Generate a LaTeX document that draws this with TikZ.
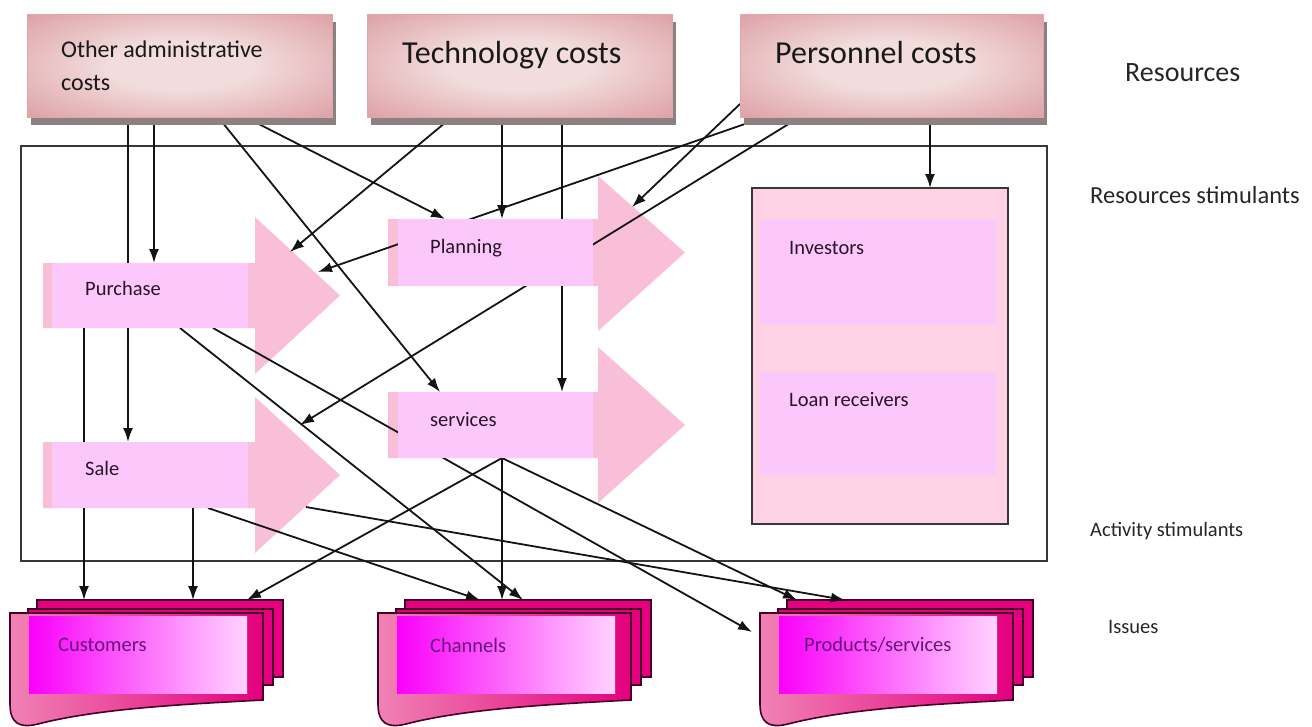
\documentclass[tikz,border=0pt]{standalone}
\usepackage{fontspec}
\setmainfont{Carlito}
\usetikzlibrary{arrows.meta}

\pgfdeclarelayer{back}
\pgfdeclarelayer{wires}
\pgfsetlayers{back,wires,main}

% palette
\definecolor{roseDark}{RGB}{212,134,140}
\definecolor{roseLight}{RGB}{242,220,220}
\definecolor{roseEdge}{RGB}{222,168,170}
\definecolor{shadowGray}{RGB}{140,128,128}
\definecolor{headPink}{RGB}{249,190,216}
\definecolor{lilac}{RGB}{252,200,252}
\definecolor{paleRose}{RGB}{253,210,228}
\definecolor{docDeep}{RGB}{228,0,126}
\definecolor{docEdge}{RGB}{70,0,40}
\definecolor{docSide}{RGB}{240,130,180}
\definecolor{docMid}{RGB}{255,238,248}
\definecolor{docInnerA}{RGB}{250,0,250}
\definecolor{docInnerB}{RGB}{255,212,255}
\definecolor{docText}{RGB}{105,20,125}
\definecolor{boxText}{RGB}{40,20,40}
\definecolor{frameGray}{RGB}{55,55,55}

\pgfdeclareradialshading{costshade}{\pgfpoint{0bp}{0bp}}{%
  color(0bp)=(roseLight); color(12bp)=(roseLight);
  color(46bp)=(roseDark); color(75bp)=(roseDark)}

\tikzset{
  costbox/.style={shade, shading=costshade, draw=roseEdge, line width=0.8pt,
    inner sep=0pt, outer sep=0pt, anchor=north west, minimum height=103},
  stimbox/.style={fill=lilac, inner sep=0pt, outer sep=0pt, anchor=north west},
  wire/.style={line width=1.8pt, draw=black!92, -{Latex[length=14pt,width=10pt]}},
  lbl/.style={font=\fontsize{20.5}{24}\selectfont, text=boxText, inner sep=0pt, anchor=west},
  doclbl/.style={lbl, text=docText},
  side/.style={text=black!85, inner sep=0pt, anchor=west},
  docback/.style={fill=docDeep, draw=docEdge, line width=1.6pt},
  docfront/.style={left color=docSide, middle color=docMid, right color=docDeep,
    draw=docEdge, line width=1.6pt}
}

% a stack of three documents; #1 shift, #2 name, #3 text, #4 text x
\newcommand\docstack[4]{%
  \begin{scope}[xshift=#1]
    \filldraw[docback] (37,600) rectangle (283,677);
    \filldraw[docback] (28,609) rectangle (273,685);
    \shadedraw[docfront] (10,613) -- (263,613) -- (263,700)
      .. controls (190,704) and (100,708) .. (38,724)
      .. controls (18,729) and (10,722) .. (10,704) -- cycle;
    \shade[left color=docInnerA, right color=docInnerB] (29,616) rectangle (247,693);
    \node[inner sep=0pt, outer sep=0pt, minimum width=246, minimum height=85,
      anchor=north west] (#2) at (37,600) {};
    \node[doclbl] (#2-t) at (#4,645) {#3};
  \end{scope}}

\begin{document}
\begin{tikzpicture}[x=1pt, y=-1pt]
\useasboundingbox (0,0) rectangle (1312,726);

\begin{pgfonlayer}{back}
  % stimulant frame
  \node[draw=frameGray, line width=1.6pt, inner sep=0pt, outer sep=0pt,
    minimum width=1026, minimum height=415, anchor=north west] (frame) at (21,146) {};

  % block arrows behind the activity boxes
  \fill[headPink] (43,263) -- (255,263) -- (255,217) -- (340,295.5)
    -- (255,374) -- (255,328) -- (43,328) -- cycle;
  \fill[headPink] (43,442) -- (255,442) -- (255,397) -- (340,475)
    -- (255,553) -- (255,508) -- (43,508) -- cycle;
  \fill[headPink] (388,219) -- (598,219) -- (598,176) -- (685,252.5)
    -- (598,331) -- (598,286) -- (388,286) -- cycle;
  \fill[headPink] (388,392) -- (598,392) -- (598,347) -- (685,425)
    -- (598,503) -- (598,458) -- (388,458) -- cycle;

  % stakeholder box
  \node[fill=paleRose, draw=frameGray, line width=1.6pt, inner sep=0pt, outer sep=0pt,
    minimum width=256, minimum height=336, anchor=north west] (stake) at (752,188) {};
  \node[stimbox, minimum width=236, minimum height=104] (inv) at (760,220) {};
  \node[stimbox, minimum width=236, minimum height=103] (loan) at (760,372) {};
  \node[lbl] (inv-t) at (789,248) {Investors};
  \node[lbl] (loan-t) at (789,400) {Loan receivers};

  % issue documents
  \docstack{0}{cust}{Customers}{58}
  \docstack{368}{chan}{Channels}{62}
  \docstack{750}{prod}{Products/services}{54}
\end{pgfonlayer}

% points on the block arrow heads
\coordinate (pu-a) at (290,252);
\coordinate (pu-b) at (318,272);
\coordinate (pl-a) at (632,207);
\coordinate (sa-a) at (300,425);
\coordinate (sa-b) at (306,507);
\coordinate (prod-side) at (752,632);

% activity boxes
\node[stimbox, minimum width=196, minimum height=65] (purch) at (52,263) {};
\node[stimbox, minimum width=196, minimum height=66] (sale) at (52,442) {};
\node[stimbox, minimum width=195, minimum height=67] (plan) at (398,219) {};
\node[stimbox, minimum width=195, minimum height=66] (serv) at (398,392) {};
\node[lbl] (purch-t) at (85,288) {Purchase};
\node[lbl] (sale-t) at (85,468) {Sale};
\node[lbl] (plan-t) at (430,248) {Planning};
\node[lbl] (serv-t) at (430,420) {services};

% resource boxes with shadows
\fill[shadowGray] (31,22) rectangle (336,125);
\fill[shadowGray] (371,22) rectangle (676,125);
\fill[shadowGray] (744,22) rectangle (1047,125);
\node[costbox, minimum width=305] (adm) at (27,14) {};
\node[costbox, minimum width=305] (tech) at (367,14) {};
\node[costbox, minimum width=303] (pers) at (740,14) {};
\node[inner sep=0pt, anchor=west, align=left, text=black!90,
  font=\fontsize{24}{33}\selectfont] (adm-t) at (61,66) {Other administrative\\costs};
\node[inner sep=0pt, anchor=base west, text=black!90,
  font=\fontsize{32}{36}\selectfont] (tech-t) at (402,63) {Technology costs};
\node[inner sep=0pt, anchor=base west, text=black!90,
  font=\fontsize{32}{36}\selectfont] (pers-t) at (775,63) {Personnel costs};

% level captions
\node[side, font=\fontsize{28}{32}\selectfont] (cap-res) at (1125,73) {Resources};
\node[side, font=\fontsize{24.5}{28}\selectfont] (cap-rs) at (1090,195) {Resources stimulants};
\node[side, font=\fontsize{20.5}{24}\selectfont] (cap-as) at (1090,531) {Activity stimulants};
\node[side, font=\fontsize{20.5}{24}\selectfont] (cap-is) at (1108,627) {Issues};

% connectors
\begin{pgfonlayer}{wires}
  \draw[wire] (128,0 |- adm.south) -- (128,0 |- sale.north);
  \draw[wire] (154,0 |- adm.south) -- (154,0 |- purch.north);
  \draw[wire] (218,0 |- adm.south) -- (440,0 |- serv.north);
  \draw[wire] (245,0 |- adm.south) -- (445,0 |- plan.north);
  \draw[wire] (452,0 |- tech.south) -- (pu-a);
  \draw[wire] (502,0 |- tech.south) -- (502,0 |- plan.north);
  \draw[wire] (562,0 |- tech.south) -- (562,0 |- serv.north);
  \draw[wire] (765,0 |- pers.south) -- (pu-b);
  \draw[wire] (pers.west |- 0,104) -- (pl-a);
  \draw[wire] (800,0 |- pers.south) -- (sa-a);
  \draw[wire] (930,0 |- pers.south) -- (930,0 |- stake.north);
  \draw[wire] (84,0 |- purch.south) -- (84,0 |- cust.north);
  \draw[wire] (180,0 |- purch.south) -- (523,0 |- chan.north);
  \draw[wire] (213,0 |- purch.south) -- (prod-side);
  \draw[wire] (193,0 |- sale.south) -- (193,0 |- cust.north);
  \draw[wire] (208,0 |- sale.south) -- (480,0 |- chan.north);
  \draw[wire] (sa-b) -- (845,0 |- prod.north);
  \draw[wire] (502,0 |- serv.south) -- (247,0 |- cust.north);
  \draw[wire] (502,0 |- serv.south) -- (502,0 |- chan.north);
  \draw[wire] (502,0 |- serv.south) -- (797,0 |- prod.north);
\end{pgfonlayer}
\end{tikzpicture}
\end{document}
